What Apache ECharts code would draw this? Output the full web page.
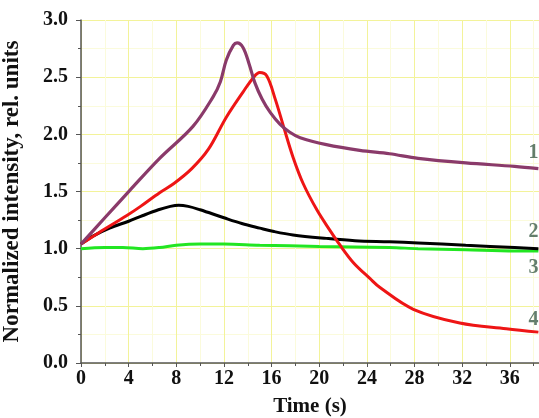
<!DOCTYPE html>
<html><head><meta charset="utf-8">
<script src="https://cdn.jsdelivr.net/npm/echarts@6/dist/echarts.min.js"></script>
<style>html,body{margin:0;padding:0;background:#fff}#c{width:539px;height:418px}</style>
</head><body><div id="c"></div>
<script>
var xTicks = [0,4,8,12,16,20,24,28,32,36];
var yTicks = [0.0,0.5,1.0,1.5,2.0,2.5,3.0];

var t1 = [0,2,4.1,6.6,9.4,11.1,11.7,12.2,12.8,13.1,13.6,14.1,14.6,15.2,15.9,16.7,17.5,18.4,20.6,23.4,25.9,28.3,32.3,36.4,38.4];
var s1 = [1.04,1.27,1.51,1.79,2.07,2.33,2.46,2.65,2.78,2.80,2.76,2.62,2.45,2.31,2.19,2.09,2.02,1.97,1.91,1.86,1.83,1.79,1.75,1.72,1.70];

var t2 = [0,1,2.4,4,5.2,6.5,7.5,8.2,9,10,12,13.5,15,16.2,17.8,20.6,23,25.9,28.3,32.3,36.4,38.4];
var s2 = [1.04,1.11,1.18,1.24,1.29,1.34,1.37,1.38,1.37,1.34,1.27,1.22,1.18,1.15,1.12,1.09,1.07,1.06,1.05,1.03,1.01,1.00];

var t3 = [0,2,3.5,5.2,6.6,8,10,12,15,20,25.9,28.3,32.3,36.4,38.4];
var s3 = [1.00,1.01,1.01,1.00,1.01,1.03,1.04,1.04,1.03,1.02,1.01,1.00,0.99,0.98,0.98];

var t4 = [0,1.5,3.85,5,6.6,7.8,9.3,10.7,12.2,13.6,14.5,15.0,15.6,16.3,17.0,17.8,18.65,19.8,20.9,21.75,22.85,24.25,25.1,27.9,31.8,35.7,38.4];
var s4 = [1.04,1.14,1.29,1.37,1.49,1.57,1.70,1.87,2.15,2.37,2.50,2.54,2.51,2.31,2.07,1.80,1.57,1.34,1.16,1.03,0.88,0.74,0.66,0.47,0.35,0.30,0.27];

var labels = [["1",1.84],["2",1.15],["3",0.83],["4",0.38]];

function pairs(t,s){return t.map(function(v,i){return [v,s[i]];});}

var font = '"Liberation Serif", "Times New Roman", serif';
var chart = echarts.init(document.getElementById('c'));
var lbl = labels.map(function(l){return {value:[38.4,l[1]], name:l[0]};});
chart.setOption({
  animation:false,
  grid:{left:81,top:20,right:0,bottom:55,containLabel:false,outerBoundsMode:'none'},
  xAxis:{type:'value',min:0,max:38.45,interval:4,
    name:'Time (s)',nameLocation:'middle',nameGap:33,
    nameTextStyle:{fontFamily:font,fontWeight:'bold',fontSize:21,color:'#111'},
    axisLine:{show:true,onZero:false,lineStyle:{color:'#555',width:1.5}},
    axisTick:{show:true,inside:false,length:4,lineStyle:{color:'#555'}},
    minorTick:{show:true,splitNumber:2,length:3,lineStyle:{color:'#555'}},
    axisLabel:{fontFamily:font,fontWeight:'bold',fontSize:20,color:'#111',margin:6,
      formatter:function(v){return xTicks.indexOf(v)>=0?String(v):'';}},
    splitLine:{show:true,lineStyle:{color:'#f3f39a',width:1}},
    minorSplitLine:{show:true,lineStyle:{color:'#fbfbdc',width:1}}
  },
  yAxis:{type:'value',min:0,max:3,interval:0.5,
    name:'Normalized intensity, rel. units',nameLocation:'middle',nameGap:57,
    nameTextStyle:{fontFamily:font,fontWeight:'bold',fontSize:23,color:'#111'},
    axisLine:{show:true,lineStyle:{color:'#555',width:1.5}},
    axisTick:{show:true,length:5,lineStyle:{color:'#555'}},
    minorTick:{show:true,splitNumber:2,length:3,lineStyle:{color:'#555'}},
    axisLabel:{fontFamily:font,fontWeight:'bold',fontSize:20,color:'#111',margin:13,
      formatter:function(v){return v.toFixed(1);}},
    splitLine:{show:true,lineStyle:{color:'#f3f39a',width:1}},
    minorSplitLine:{show:true,lineStyle:{color:'#fbfbdc',width:1}}
  },
  series:[
    {type:'line',data:pairs(t3,s3),smooth:0.35,symbol:'none',lineStyle:{color:'#22e622',width:3},z:3},
    {type:'line',data:pairs(t2,s2),smooth:0.35,symbol:'none',lineStyle:{color:'#000000',width:3},z:4},
    {type:'line',data:pairs(t4,s4),smooth:0.35,symbol:'none',lineStyle:{color:'#ee1515',width:3},z:5},
    {type:'line',data:pairs(t1,s1),smooth:0.35,symbol:'none',lineStyle:{color:'#8a3a6a',width:3.2},z:6},
    {type:'scatter',data:lbl,symbolSize:0,z:10,
      label:{show:true,position:'left',distance:0,formatter:function(p){return p.name;},
        fontFamily:font,fontWeight:'bold',fontSize:20,color:'#3d5e48'}}
  ]
});
</script></body></html>
